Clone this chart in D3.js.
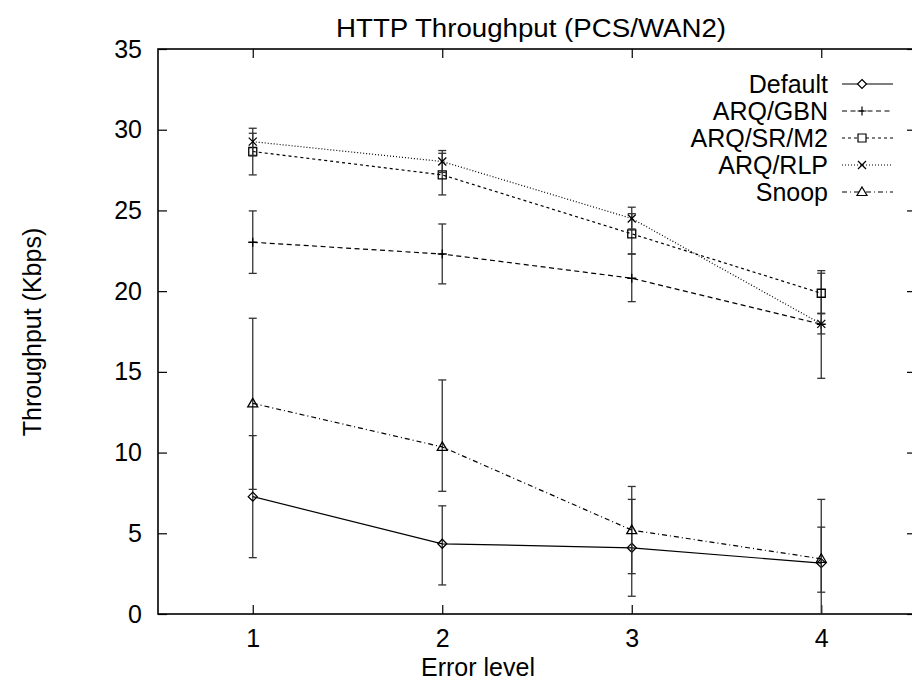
<!DOCTYPE html>
<html>
<head>
<meta charset="utf-8">
<script src="https://cdn.jsdelivr.net/npm/d3@7"></script>
<style>
  body { margin: 0; background: #fff; }
  text { font-family: "Liberation Sans", Arial, Helvetica, sans-serif; fill: #000; }
</style>
</head>
<body>
<div id="chart"></div>
<script>
// values
var levels = [1, 2, 3, 4];
var yTicks = [0, 5, 10, 15, 20, 25, 30, 35];
var seriesNames = ["Default", "ARQ/GBN", "ARQ/SR/M2", "ARQ/RLP", "Snoop"];

var defaultMean = [7.27, 4.35, 4.1, 3.15];
var defaultLow  = [3.49, 1.8, 1.1, 1.35];
var defaultHigh = [11.05, 6.7, 7.1, 5.38];

var gbnMean = [23.03, 22.3, 20.8, 17.95];
var gbnLow  = [21.1, 20.45, 19.35, 14.6];
var gbnHigh = [24.97, 24.16, 22.3, 21.27];

var srMean = [28.65, 27.2, 23.55, 19.87];
var srLow  = [27.2, 25.96, 22.3, 18.63];
var srHigh = [29.78, 28.54, 24.8, 21.11];

var rlpMean = [29.26, 28.03, 24.5, 17.97];
var rlpLow  = [28.38, 27.35, 23.85, 17.35];
var rlpHigh = [30.09, 28.71, 25.2, 18.6];

var snoopMean = [13.05, 10.35, 5.2, 3.42];
var snoopLow  = [7.72, 7.6, 2.5, -0.4];
var snoopHigh = [18.32, 14.5, 7.9, 7.1];

var series = [
  {name: seriesNames[0], mean: defaultMean, low: defaultLow, high: defaultHigh, dash: null, sym: "diamond"},
  {name: seriesNames[1], mean: gbnMean, low: gbnLow, high: gbnHigh, dash: "5,3.5", sym: "plus"},
  {name: seriesNames[2], mean: srMean, low: srLow, high: srHigh, dash: "3,3", sym: "square"},
  {name: seriesNames[3], mean: rlpMean, low: rlpLow, high: rlpHigh, dash: "1,2", sym: "cross"},
  {name: seriesNames[4], mean: snoopMean, low: snoopLow, high: snoopHigh, dash: "5,3,1,3", sym: "triangle"}
];

var W = 912, H = 682;
var margin = {top: 49, left: 158, right: -4, bottom: 68};
var width = W - margin.left - margin.right,
    height = H - margin.top - margin.bottom;
var fontSize = "25px";

var svg = d3.select("#chart").append("svg")
    .attr("width", W)
    .attr("height", H);

var g = svg.append("g")
    .attr("transform", "translate(" + margin.left + "," + margin.top + ")");

var x = d3.scaleLinear().domain([0.5, 4.5]).range([0, width]);
var y = d3.scaleLinear().domain([0, 35]).range([height, 0]);

g.append("clipPath").attr("id", "clip")
  .append("rect").attr("width", width).attr("height", height);

// axes: ticks point inward, mirrored on the opposite side
function styleAxis(sel) {
    sel.select(".domain").remove();
    sel.selectAll(".tick line").attr("stroke", "#000").attr("stroke-width", 1.2);
    sel.selectAll(".tick text").style("font-size", fontSize);
}

g.append("g")
    .attr("transform", "translate(0," + height + ")")
    .call(d3.axisBottom(x).tickValues(levels).tickSizeInner(-9).tickPadding(15).tickFormat(d3.format("d")))
    .call(styleAxis);
g.append("g")
    .call(d3.axisTop(x).tickValues(levels).tickSizeInner(-9).tickFormat(""))
    .call(styleAxis);
g.append("g")
    .call(d3.axisLeft(y).tickValues(yTicks).tickSizeInner(-9).tickPadding(16))
    .call(styleAxis);
g.append("g")
    .attr("transform", "translate(" + width + ",0)")
    .call(d3.axisRight(y).tickValues(yTicks).tickSizeInner(-9).tickFormat(""))
    .call(styleAxis);

g.append("rect")
    .attr("width", width).attr("height", height)
    .attr("fill", "none").attr("stroke", "#000").attr("stroke-width", 1.6);

function symbolPath(type) {
    var s = 4.5;
    if (type == "diamond") return "M0," + (-s) + "L" + s + ",0L0," + s + "L" + (-s) + ",0Z";
    if (type == "square") return "M-4,-4H4V4H-4Z";
    if (type == "triangle") return "M0,-5L5,3.5H-5Z";
    if (type == "cross") return "M-4,-4L4,4M-4,4L4,-4";
    return "M-4.5,0H4.5M0,-4.5V4.5";
}

var plot = g.append("g").attr("clip-path", "url(#clip)");

series.forEach(function(s) {
    var pts = levels.map(function(l, i) { return {x: l, m: s.mean[i], lo: s.low[i], hi: s.high[i]}; });

    var eb = plot.append("g").attr("stroke", "#333").attr("stroke-width", 1.3);
    pts.forEach(function(p) {
        eb.append("line").attr("x1", x(p.x)).attr("x2", x(p.x)).attr("y1", y(p.lo)).attr("y2", y(p.hi));
        eb.append("line").attr("x1", x(p.x) - 4).attr("x2", x(p.x) + 4).attr("y1", y(p.lo)).attr("y2", y(p.lo));
        eb.append("line").attr("x1", x(p.x) - 4).attr("x2", x(p.x) + 4).attr("y1", y(p.hi)).attr("y2", y(p.hi));
    });

    plot.append("path")
        .datum(pts)
        .attr("fill", "none")
        .attr("stroke", "#000")
        .attr("stroke-width", 1.2)
        .attr("stroke-dasharray", s.dash)
        .attr("d", d3.line().x(function(d) { return x(d.x); }).y(function(d) { return y(d.m); }));

    plot.selectAll(null).data(pts).enter().append("path")
        .attr("transform", function(d) { return "translate(" + x(d.x) + "," + y(d.m) + ")"; })
        .attr("d", symbolPath(s.sym))
        .attr("fill", "none")
        .attr("stroke", "#000")
        .attr("stroke-width", 1.3);
});

// legend (top right, inside the frame)
var legend = svg.append("g");
series.forEach(function(s, i) {
    var ly = 84 + i * 27;
    legend.append("text")
        .attr("x", 828).attr("y", ly).attr("dy", "0.35em")
        .attr("text-anchor", "end")
        .style("font-size", fontSize)
        .text(s.name);
    legend.append("line")
        .attr("x1", 842).attr("x2", 893).attr("y1", ly).attr("y2", ly)
        .attr("stroke", "#000").attr("stroke-width", 1.2)
        .attr("stroke-dasharray", s.dash);
    legend.append("path")
        .attr("transform", "translate(862," + ly + ")")
        .attr("d", symbolPath(s.sym))
        .attr("fill", "#fff").attr("stroke", "#000").attr("stroke-width", 1.2);
});

svg.append("text")
    .attr("x", 531).attr("y", 28).attr("dy", "0.35em")
    .attr("text-anchor", "middle")
    .attr("textLength", 390)
    .attr("lengthAdjust", "spacingAndGlyphs")
    .style("font-size", fontSize)
    .text("HTTP Throughput (PCS/WAN2)");

svg.append("text")
    .attr("x", 478).attr("y", 667).attr("dy", "0.35em")
    .attr("text-anchor", "middle")
    .style("font-size", fontSize)
    .text("Error level");

svg.append("text")
    .attr("transform", "translate(32,332) rotate(-90)")
    .attr("dy", "0.35em")
    .attr("text-anchor", "middle")
    .style("font-size", fontSize)
    .text("Throughput (Kbps)");
</script>
</body>
</html>
